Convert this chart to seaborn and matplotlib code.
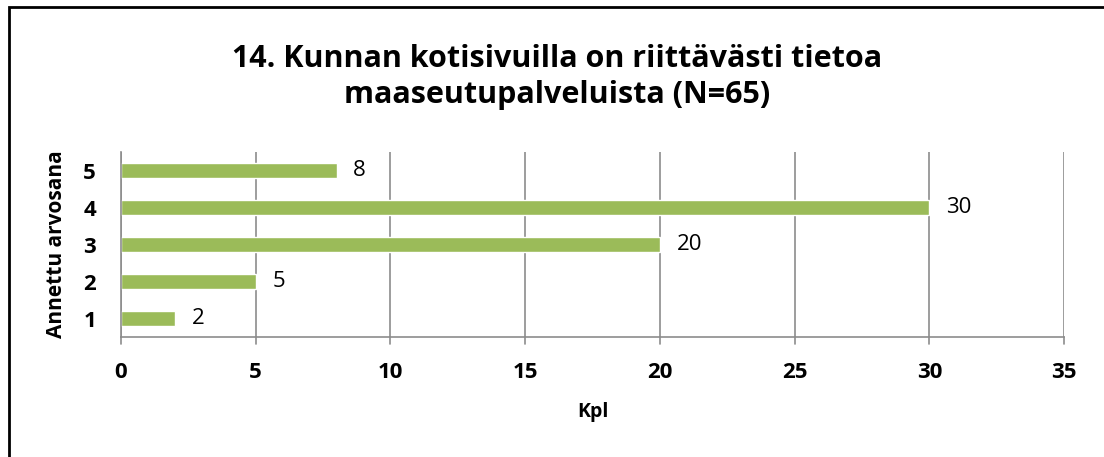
import matplotlib
matplotlib.use("Agg")
import matplotlib.pyplot as plt
import seaborn as sns
import pandas as pd
from matplotlib.patches import Rectangle

# data
grades = ["5", "4", "3", "2", "1"]
counts = [8, 30, 20, 5, 2]
x_ticks = [0, 5, 10, 15, 20, 25, 30, 35]

title = "14. Kunnan kotisivuilla on riittävästi tietoa\nmaaseutupalveluista (N=65)"
bar_color = "#9BBB59"
grid_color = "#8C8C8C"

sns.set_style("white")
plt.rcParams["font.family"] = ["Open Sans", "DejaVu Sans"]
plt.rcParams["text.color"] = "black"
plt.rcParams["axes.labelcolor"] = "black"
plt.rcParams["xtick.color"] = "black"
plt.rcParams["ytick.color"] = "black"

df = pd.DataFrame({"grade": grades, "count": counts})

fig = plt.figure(figsize=(11.04, 4.57), dpi=100)
ax = fig.add_axes([0.1096, 0.2626, 0.8542, 0.4044])

sns.barplot(data=df, x="count", y="grade", order=grades, orient="h",
            color=bar_color, saturation=1, width=0.4, ax=ax)

ax.set_xlim(0, 35)
ax.set_ylim(4.5, -0.5)
ax.set_xticks(x_ticks)
ax.set_xticklabels([str(t) for t in x_ticks], fontsize=16, fontweight="bold")
ax.set_yticks(range(len(grades)))
ax.set_yticklabels(grades, fontsize=16, fontweight="bold")
ax.tick_params(axis="y", length=0, pad=18)
ax.tick_params(axis="x", length=0, pad=18)

# minor ticks at category boundaries (left) and at x ticks (down)
ax.set_yticks([i - 0.5 for i in range(len(grades) + 1)], minor=True)
ax.tick_params(axis="y", which="minor", length=7, color=grid_color, width=1.2)
for t in x_ticks:
    ax.plot([t, t], [4.5, 4.5 + 0.2], color=grid_color, lw=1.2, clip_on=False, zorder=0)

ax.grid(False)
for t in x_ticks:
    ax.axvline(t, color=grid_color, lw=1.2, zorder=0)

for s in ["top", "right"]:
    ax.spines[s].set_visible(False)
for s in ["left", "bottom"]:
    ax.spines[s].set_color(grid_color)
    ax.spines[s].set_linewidth(1.2)

ax.bar_label(ax.containers[0], labels=[str(c) for c in counts], padding=12,
             fontsize=16, color="black")

ax.set_xlabel("Kpl", fontsize=14, fontweight="bold", labelpad=14)
ax.set_ylabel("Annettu arvosana", fontsize=15, fontweight="bold", labelpad=12)

fig.text(0.505, 0.832, title, ha="center", va="center", fontsize=22,
         fontweight="bold", linespacing=1.25, color="black")

# outer chart frame (cropped at right and bottom)
fig.patches.append(Rectangle((8.5 / 1104, -0.1), 1.2, 1 - 7.5 / 457 + 0.1,
                             transform=fig.transFigure, fill=False,
                             edgecolor="black", lw=2))

fig.savefig("out.png", dpi=100)
